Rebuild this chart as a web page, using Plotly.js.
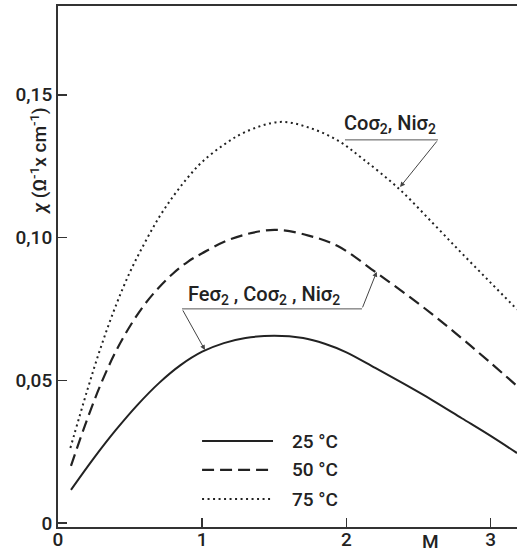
<!DOCTYPE html>
<html>
<head>
<meta charset="utf-8">
<script src="https://cdn.plot.ly/plotly-3.0.1.min.js"></script>
<style>html,body{margin:0;padding:0;background:#fff;}#chart{width:517px;height:553px;}</style>
</head>
<body>
<div id="chart"></div>
<script>
// concentration M
var x25 = [0.09, 0.25, 0.40, 0.55, 0.70, 0.85, 1.00, 1.15, 1.30, 1.50, 1.70, 1.85, 2.00, 2.20, 2.40, 2.60, 2.80, 3.00, 3.183];
var y25 = [0.0116, 0.0228, 0.0325, 0.0413, 0.0490, 0.0553, 0.0600, 0.0630, 0.0648, 0.0656, 0.0648, 0.0628, 0.0598, 0.0543, 0.0487, 0.0429, 0.0367, 0.0305, 0.0245];

var x50 = [0.09, 0.20, 0.30, 0.40, 0.50, 0.60, 0.70, 0.80, 0.90, 1.00, 1.20, 1.50, 1.75, 1.94, 2.21, 2.53, 2.84, 3.183];
var y50 = [0.0200, 0.0360, 0.0490, 0.0600, 0.0690, 0.0765, 0.0825, 0.0875, 0.0915, 0.0945, 0.0995, 0.1027, 0.1005, 0.0970, 0.0876, 0.0757, 0.0630, 0.0480];

var x75 = [0.086, 0.20, 0.30, 0.40, 0.50, 0.60, 0.70, 0.80, 0.90, 1.00, 1.15, 1.30, 1.54, 1.74, 1.94, 2.115, 2.362, 2.60, 2.80, 3.00, 3.183];
var y75 = [0.0263, 0.0460, 0.0620, 0.0760, 0.0880, 0.0980, 0.1070, 0.1145, 0.1210, 0.1265, 0.1325, 0.1370, 0.1405, 0.1385, 0.1340, 0.1275, 0.1172, 0.1050, 0.0945, 0.0842, 0.0748];

var seriesNames = ["25 °C", "50 °C", "75 °C"];
var yTickVals = [0, 0.05, 0.10, 0.15];
var yTickText = ["0", "0,05", "0,10", "0,15"];
var xTickVals = [0, 1, 2, 3];
var xTickText = ["0", "1", "2", "3"];
var labelFeCoNi = "Feσ<sub>2</sub> , Coσ<sub>2</sub> , Niσ<sub>2</sub>";
var labelCoNi = "Coσ<sub>2</sub>, Niσ<sub>2</sub>";
var yTitle = "<i>χ</i> (Ω<sup>-1</sup>x cm<sup>-1</sup>)";
var xUnit = "M";

var ink = "#222";
var fontFam = "Roboto, 'DejaVu Sans', sans-serif";
var dashes = ["solid", "12px,6px", "2px,3.5px"];

var traces = [
  {x: x25, y: y25, name: seriesNames[0], mode: "lines", line: {color: ink, width: 2, dash: dashes[0], shape: "spline", smoothing: 1}},
  {x: x50, y: y50, name: seriesNames[1], mode: "lines", line: {color: ink, width: 2.2, dash: dashes[1], shape: "spline", smoothing: 1}},
  {x: x75, y: y75, name: seriesNames[2], mode: "lines", line: {color: ink, width: 2, dash: dashes[2], shape: "spline", smoothing: 1}}
];

var txtFont = {family: fontFam, size: 19, color: ink, weight: 500};

// legend geometry (data coordinates)
var legY = [0.0287, 0.0186, 0.0084];
var shapes = [];
var annotations = [];
for (var i = 0; i < 3; i++) {
  shapes.push({type: "line", xref: "x", yref: "y", x0: 0.999, x1: 1.491, y0: legY[i], y1: legY[i],
    line: {color: ink, width: i === 1 ? 2.2 : 2, dash: dashes[i]}});
  annotations.push({xref: "x", yref: "y", x: 1.612, y: legY[i], xanchor: "left", yanchor: "middle",
    text: seriesNames[i], showarrow: false, font: txtFont});
}
// underline lines for labels
shapes.push({type: "line", xref: "x", yref: "y", x0: 0.860, x1: 2.108, y0: 0.0750, y1: 0.0750, line: {color: "#555", width: 1}});
shapes.push({type: "line", xref: "x", yref: "y", x0: 1.990, x1: 2.635, y0: 0.1342, y1: 0.1342, line: {color: "#555", width: 1}});

var arrowStyle = {showarrow: true, arrowhead: 2, arrowsize: 1, arrowwidth: 1, arrowcolor: "#444", standoff: 0, startstandoff: 0, text: "", axref: "x", ayref: "y", xref: "x", yref: "y"};
function arrow(tx, ty, hx, hy) {
  var a = Object.assign({}, arrowStyle);
  a.ax = tx; a.ay = ty; a.x = hx; a.y = hy;
  return a;
}
annotations.push(arrow(0.860, 0.0750, 1.019, 0.0606));
annotations.push(arrow(2.108, 0.0750, 2.210, 0.0880));
annotations.push(arrow(2.635, 0.1342, 2.372, 0.1177));

annotations.push({xref: "x", yref: "y", x: 0.890, y: 0.0797, xanchor: "left", yanchor: "middle",
  text: labelFeCoNi, showarrow: false, font: {family: fontFam, size: 20, color: ink, weight: 500}});
annotations.push({xref: "x", yref: "y", x: 1.970, y: 0.1397, xanchor: "left", yanchor: "middle",
  text: labelCoNi, showarrow: false, font: {family: fontFam, size: 20, color: ink, weight: 500}});

annotations.push({xref: "x", yref: "paper", x: 2.58, y: 0, yanchor: "top", xanchor: "center", yshift: -1,
  text: xUnit, showarrow: false, font: txtFont});
annotations.push({xref: "paper", yref: "paper", x: -0.042, y: 0.704, xanchor: "center", yanchor: "middle",
  textangle: -90, text: yTitle, showarrow: false, font: {family: fontFam, size: 19, color: ink, weight: 500}});

var layout = {
  width: 517, height: 553,
  margin: {l: 58, r: 0, t: 6, b: 26, pad: 0},
  paper_bgcolor: "#fff", plot_bgcolor: "#fff",
  showlegend: false,
  xaxis: {range: [0, 3.183], tickvals: xTickVals, ticktext: xTickText, ticks: "inside", ticklen: 9, tickwidth: 1.5, tickcolor: "#333",
    showgrid: false, zeroline: false, showline: true, linecolor: "#333", linewidth: 2, mirror: true,
    ticklabelstandoff: -6,
    tickfont: {family: fontFam, size: 19, color: ink, weight: 500}},
  yaxis: {range: [-0.0014, 0.1811], tickvals: yTickVals, ticktext: yTickText, ticks: "inside", ticklen: 9, tickwidth: 1.5, tickcolor: "#333",
    showgrid: false, zeroline: false, showline: true, linecolor: "#333", linewidth: 2,
    tickfont: {family: fontFam, size: 19, color: ink, weight: 500}},
  shapes: shapes,
  annotations: annotations
};

Plotly.newPlot("chart", traces, layout, {staticPlot: true, displayModeBar: false});
</script>
</body>
</html>
